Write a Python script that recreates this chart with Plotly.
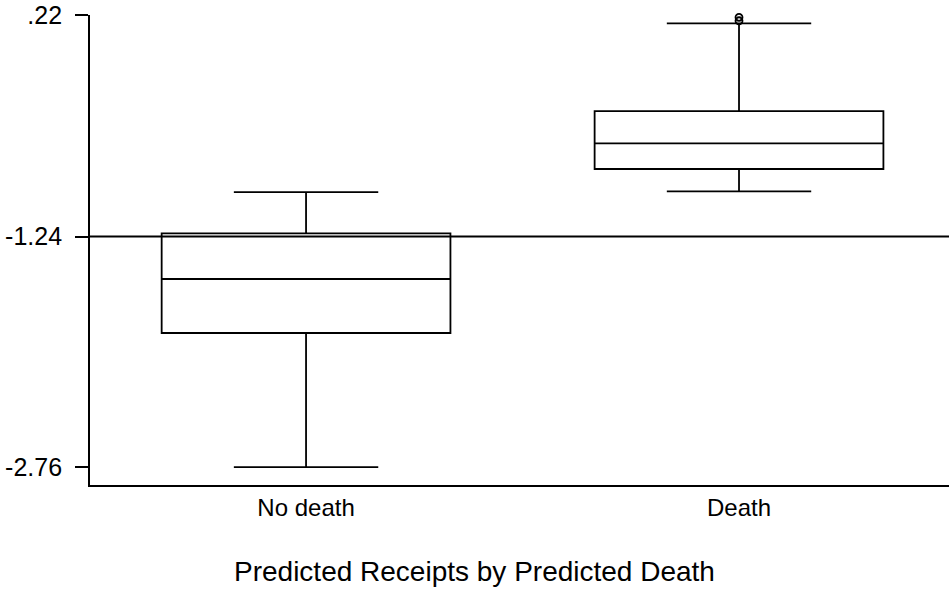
import plotly.graph_objects as go

categories = ["No death", "Death"]
q1_vals = [-1.876, -0.795]
median_vals = [-1.520, -0.626]
q3_vals = [-1.220, -0.413]
lower_fence = [-2.76, -0.942]
upper_fence = [-0.947, 0.165]
outlier_cat = ["Death", "Death", "Death"]
outlier_vals = [0.228, 0.205, 0.182]
ytick_vals = [0.22, -1.24, -2.76]
ytick_text = [".22", "-1.24", "-2.76"]
ref_line = -1.24
title_text = "Predicted Receipts by Predicted Death"

FONT = "Liberation Sans, Arial, sans-serif"

fig = go.Figure()
fig.add_trace(go.Box(
    x=categories, q1=q1_vals, median=median_vals, q3=q3_vals,
    lowerfence=lower_fence, upperfence=upper_fence,
    boxpoints=False, width=0.667, whiskerwidth=0.5,
    line=dict(color="black", width=1.8), fillcolor="rgba(255,255,255,0)",
    showlegend=False,
))
fig.add_trace(go.Scatter(
    x=outlier_cat, y=outlier_vals, mode="markers",
    marker=dict(symbol="circle-open", size=7, color="black", line=dict(width=1.8)),
    showlegend=False, cliponaxis=False,
))
fig.add_shape(type="line", xref="paper", x0=0, x1=1, yref="y", y0=ref_line, y1=ref_line,
              line=dict(color="black", width=1.8), layer="below")

fig.add_annotation(text=title_text, xref="paper", yref="paper",
                   x=(474 - 90) / 859, y=-(571 - 485) / 470, xanchor="center", yanchor="middle",
                   showarrow=False, font=dict(family=FONT, size=28, color="black"))

fig.update_layout(
    width=949, height=592,
    margin=dict(l=90, r=0, t=15, b=107),
    plot_bgcolor="white", paper_bgcolor="white",
    font=dict(family=FONT, size=24, color="black"),
    xaxis=dict(type="category", range=[-0.499, 1.485], showgrid=False, zeroline=False,
               showline=True, linecolor="black", linewidth=1.8, ticks="",
               tickfont=dict(size=24)),
    yaxis=dict(range=[-2.878, 0.22], showgrid=False, zeroline=False,
               showline=True, linecolor="black", linewidth=1.8,
               tickmode="array", tickvals=ytick_vals, ticktext=ytick_text,
               ticks="outside", ticklen=13, tickwidth=1.8, tickcolor="black",
               ticklabelstandoff=8, tickfont=dict(size=25)),
)

fig.write_html("out.html")
